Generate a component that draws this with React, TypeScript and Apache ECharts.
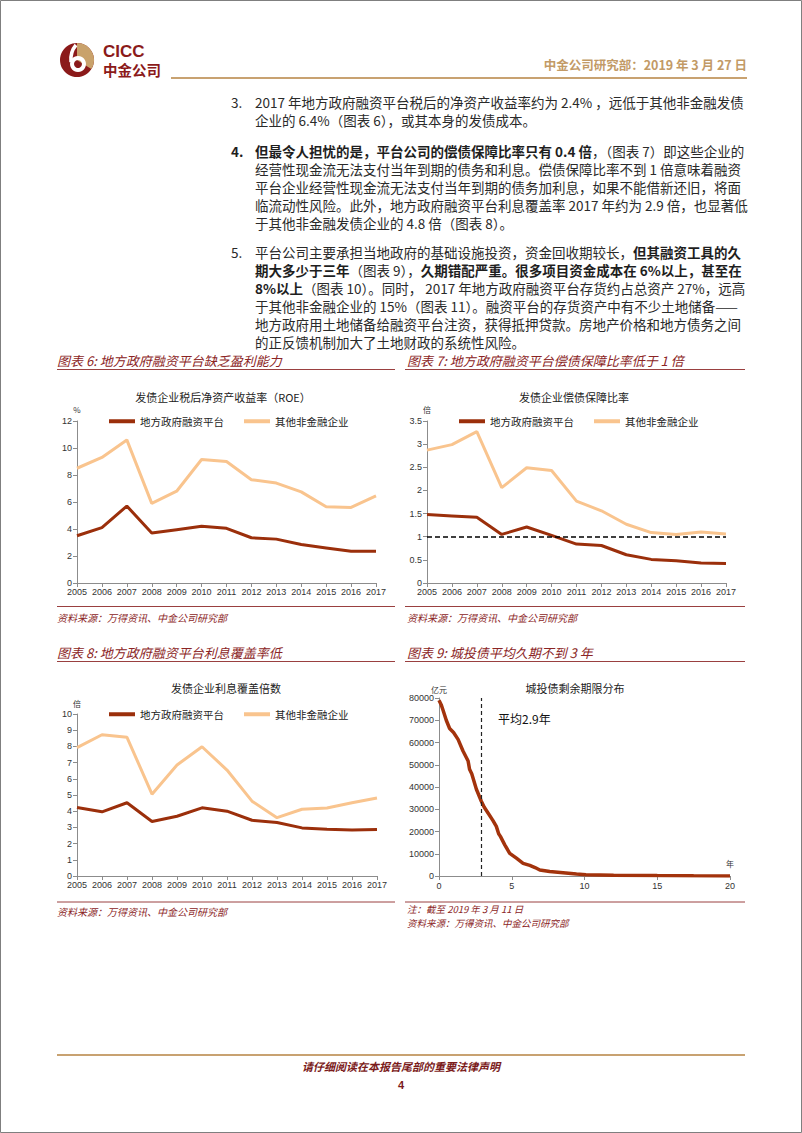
import React, { useEffect, useRef } from 'react';
import * as echarts from 'echarts';

const YEARS = ['2005', '2006', '2007', '2008', '2009', '2010', '2011', '2012', '2013', '2014', '2015', '2016', '2017'];
const SERIES_NAMES = ['地方政府融资平台', '其他非金融企业'];

const ROE_LGFV = [3.5, 4.1, 5.7, 3.7, 3.95, 4.2, 4.05, 3.35, 3.25, 2.85, 2.6, 2.35, 2.35];
const ROE_OTHER = [8.5, 9.3, 10.6, 5.9, 6.8, 9.15, 9.0, 7.65, 7.4, 6.75, 5.65, 5.6, 6.45];

const DSCR_LGFV = [1.48, 1.45, 1.42, 1.05, 1.21, 1.03, 0.84, 0.81, 0.61, 0.51, 0.48, 0.43, 0.42];
const DSCR_OTHER = [2.87, 2.99, 3.27, 2.06, 2.49, 2.43, 1.77, 1.56, 1.27, 1.09, 1.05, 1.1, 1.06];
const DSCR_THRESHOLD = 1;

const ICR_LGFV = [4.23, 3.96, 4.52, 3.36, 3.69, 4.21, 4.0, 3.44, 3.3, 2.97, 2.89, 2.84, 2.87];
const ICR_OTHER = [7.92, 8.72, 8.56, 5.05, 6.85, 7.98, 6.54, 4.62, 3.6, 4.12, 4.2, 4.52, 4.82];

const MATURITY_YEARS = [0, 0.15, 0.28, 0.5, 0.73, 1.0, 1.31, 1.65, 2.0, 2.1, 2.25, 2.57, 2.91, 3.1, 3.37, 3.7, 3.94, 4.1, 4.22, 4.52, 4.86, 5.32, 5.78, 6.24, 6.6, 6.93, 7.61, 8.53, 9.45, 10.1, 12, 15, 17.5, 20];
const MATURITY_AMOUNT = [79000, 77000, 74500, 70000, 66300, 64500, 61400, 56200, 51700, 48000, 46000, 39000, 33600, 31000, 28300, 25000, 22300, 19000, 17800, 14000, 10200, 8000, 5700, 4800, 3800, 2700, 2000, 1500, 900, 600, 350, 200, 100, 50];
const AVG_MATURITY = 2.9;

const DARK = '#9B2F0B';
const LIGHT = '#F9C48E';
const RED = '#8B2525';
const GOLD = '#C8A271';
const CJK = "'Noto Sans CJK SC', 'Noto Sans', sans-serif";
const ARIAL = "'Liberation Sans', Arial, sans-serif";

function txt(x: number, y: number, text: string, o: any = {}) {
  const align = o.align || 'left';
  return {
    type: 'text',
    x,
    y,
    z: 20,
    style: {
      text,
      fontSize: o.fontSize || 12,
      fontFamily: o.fontFamily || CJK,
      fontWeight: o.fontWeight || 'normal',
      fontStyle: o.fontStyle || 'normal',
      fill: o.fill || '#222',
      align,
      textAlign: align,
      verticalAlign: 'middle',
      textVerticalAlign: 'middle',
      lineHeight: o.lineHeight,
      rich: o.rich,
    },
  };
}

function hline(x1: number, x2: number, y: number, color: string, w: number) {
  return { type: 'line', z: 20, shape: { x1, y1: y, x2, y2: y }, style: { stroke: color, lineWidth: w } };
}

const BODY_FS = 13.5;
const bodyRich = {
  b: { fontWeight: 'bold', fontSize: BODY_FS, fontFamily: CJK, fill: '#1e1e1e', lineHeight: 16 },
};
function body(x: number, y: number, text: string) {
  return txt(x, y, text, { fontSize: BODY_FS, fill: '#2a2a2a', rich: bodyRich, lineHeight: 16 });
}

function catX(gi: number) {
  return {
    type: 'category',
    gridIndex: gi,
    data: YEARS,
    boundaryGap: false,
    axisLine: { show: true, lineStyle: { color: '#8c8c8c', width: 1 } },
    axisTick: { show: true, length: 4, lineStyle: { color: '#8c8c8c' } },
    axisLabel: { fontSize: 9, color: '#333', interval: 0, margin: 4, fontFamily: ARIAL },
    splitLine: { show: false },
  };
}

function valY(gi: number, max: number, interval: number, name: string, nameGap: number) {
  return {
    type: 'value',
    gridIndex: gi,
    min: 0,
    max,
    interval,
    name,
    nameLocation: 'end',
    nameGap,
    nameTextStyle: { fontSize: 8, color: '#333', fontFamily: CJK, align: 'center' },
    axisLine: { show: true, lineStyle: { color: '#8c8c8c', width: 1 } },
    axisTick: { show: true, length: 4, lineStyle: { color: '#8c8c8c' } },
    axisLabel: { fontSize: 9, color: '#333', margin: 5, fontFamily: ARIAL, formatter: (v: number) => String(v) },
    splitLine: { show: false },
  };
}

function lineSeries(name: string, gi: number, data: any[], color: string, extra: any = {}) {
  return {
    type: 'line',
    name,
    xAxisIndex: gi,
    yAxisIndex: gi,
    data,
    symbol: 'none',
    lineStyle: { width: 3, color },
    itemStyle: { color },
    silent: true,
    ...extra,
  };
}

export default function App() {
  const ref = useRef<HTMLDivElement>(null);
  useEffect(() => {
    const chart = echarts.init(ref.current as HTMLDivElement, null, { renderer: 'svg' });

    const P3 = [102, 120];
    const P4 = [151, 169, 187, 205, 223];
    const P5 = [252, 270, 288, 306, 324, 342];

    const graphic: any[] = [
      // page frame
      { type: 'rect', z: 1, shape: { x: 0.5, y: 0.5, width: 801, height: 1132 }, style: { fill: 'none', stroke: '#7f7f7f', lineWidth: 1 } },
      // logo
      { type: 'circle', z: 20, shape: { cx: 77, cy: 60, r: 17 }, style: { fill: '#8B1A1A' } },
      { type: 'sector', z: 21, shape: { cx: 77, cy: 60, r: 17, r0: 0, startAngle: -Math.PI / 2, endAngle: Math.PI * 0.18 }, style: { fill: '#C9A26B' } },
      { type: 'ring', z: 22, shape: { cx: 78, cy: 64, r: 8, r0: 4 }, style: { fill: '#fff' } },
      { type: 'bezierCurve', z: 22, shape: { x1: 71, y1: 62, x2: 76, y2: 45, cpx1: 70, cpy1: 52 }, style: { stroke: '#fff', lineWidth: 3.5, fill: 'none' } },
      txt(103, 51, 'CICC', { fontSize: 17, fontWeight: 'bold', fill: '#8B1A1A', fontFamily: ARIAL }),
      txt(103, 69, '中金公司', { fontSize: 14.5, fontWeight: 'bold', fill: '#8B1A1A' }),
      // header
      txt(747, 64, '中金公司研究部：2019 年 3 月 27 日', { fontSize: 12.5, fontWeight: 'bold', fill: '#C29A66', align: 'right' }),
      hline(171, 747, 78, GOLD, 2),

      // paragraph 3
      body(231, P3[0], '3.'),
      body(255, P3[0], '2017 年地方政府融资平台税后的净资产收益率约为 2.4% ，远低于其他非金融发债'),
      body(255, P3[1], '企业的 6.4%（图表 6），或其本身的发债成本。'),
      // paragraph 4
      body(231, P4[0], '{b|4.}'),
      body(255, P4[0], '{b|但最令人担忧的是，平台公司的偿债保障比率只有 0.4 倍}，（图表 7）即这些企业的'),
      body(255, P4[1], '经营性现金流无法支付当年到期的债务和利息。偿债保障比率不到 1 倍意味着融资'),
      body(255, P4[2], '平台企业经营性现金流无法支付当年到期的债务加利息，如果不能借新还旧，将面'),
      body(255, P4[3], '临流动性风险。此外，地方政府融资平台利息覆盖率 2017 年约为 2.9 倍，也显著低'),
      body(255, P4[4], '于其他非金融发债企业的 4.8 倍（图表 8）。'),
      // paragraph 5
      body(231, P5[0], '5.'),
      body(255, P5[0], '平台公司主要承担当地政府的基础设施投资，资金回收期较长，{b|但其融资工具的久}'),
      body(255, P5[1], '{b|期大多少于三年}（图表 9），{b|久期错配严重。很多项目资金成本在 6%以上，甚至在}'),
      body(255, P5[2], '{b|8%以上}（图表 10）。同时， 2017 年地方政府融资平台存货约占总资产 27%，远高'),
      body(255, P5[3], '于其他非金融企业的 15%（图表 11）。融资平台的存货资产中有不少土地储备——'),
      body(255, P5[4], '地方政府用土地储备给融资平台注资，获得抵押贷款。房地产价格和地方债务之间'),
      body(255, P5[5], '的正反馈机制加大了土地财政的系统性风险。'),

      // chart headings
      txt(57, 360, '图表 6: 地方政府融资平台缺乏盈利能力', { fontSize: 13, fontStyle: 'italic', fill: RED }),
      hline(57, 395, 369.5, '#9A4040', 1),
      txt(407, 360, '图表 7: 地方政府融资平台偿债保障比率低于 1 倍', { fontSize: 13, fontStyle: 'italic', fill: RED }),
      hline(405, 745, 369.5, '#9A4040', 1),
      txt(57, 652, '图表 8: 地方政府融资平台利息覆盖率低', { fontSize: 13, fontStyle: 'italic', fill: RED }),
      hline(57, 395, 661.5, '#9A4040', 1),
      txt(407, 652, '图表 9: 城投债平均久期不到 3 年', { fontSize: 13, fontStyle: 'italic', fill: RED }),
      hline(405, 745, 661.5, '#9A4040', 1),

      // chart titles
      txt(223, 397, '发债企业税后净资产收益率（ROE）', { fontSize: 11, align: 'center', fill: '#222' }),
      txt(574, 397, '发债企业偿债保障比率', { fontSize: 11, align: 'center', fill: '#222' }),
      txt(226, 688, '发债企业利息覆盖倍数', { fontSize: 11, align: 'center', fill: '#222' }),
      txt(575, 688, '城投债剩余期限分布', { fontSize: 11, align: 'center', fill: '#222' }),

      // annotations chart 9
      txt(498, 718, '平均2.9年', { fontSize: 12, fill: '#111' }),
      txt(730, 863, '年', { fontSize: 8, fill: '#333', align: 'center' }),

      // sources
      hline(57, 395, 606.5, '#9A4040', 1),
      hline(405, 745, 606.5, '#9A4040', 1),
      txt(57, 617, '资料来源：万得资讯、中金公司研究部', { fontSize: 10, fontStyle: 'italic', fill: RED }),
      txt(407, 617, '资料来源：万得资讯、中金公司研究部', { fontSize: 10, fontStyle: 'italic', fill: RED }),
      hline(57, 395, 902, '#9A4040', 1),
      hline(405, 745, 902, '#9A4040', 1),
      txt(57, 911, '资料来源：万得资讯、中金公司研究部', { fontSize: 10, fontStyle: 'italic', fill: RED }),
      txt(407, 909, '注：截至 2019 年 3 月 11 日', { fontSize: 9.5, fontStyle: 'italic', fill: RED }),
      txt(407, 922.5, '资料来源：万得资讯、中金公司研究部', { fontSize: 9.5, fontStyle: 'italic', fill: RED }),

      // footer
      hline(57, 745, 1055, GOLD, 2),
      txt(401, 1066, '请仔细阅读在本报告尾部的重要法律声明', { fontSize: 11, fontStyle: 'italic', fontWeight: 'bold', fill: '#7B1B1B', align: 'center' }),
      txt(401, 1085, '4', { fontSize: 11, fontWeight: 'bold', fill: '#7B1B1B', align: 'center', fontFamily: ARIAL }),
    ];

    const legendBase = {
      data: SERIES_NAMES,
      orient: 'horizontal',
      padding: 0,
      itemWidth: 26,
      itemHeight: 4,
      itemGap: 20,
      icon: 'rect',
      selectedMode: false,
      textStyle: { fontSize: 10.5, color: '#222', fontFamily: CJK },
    };

    const option: any = {
      animation: false,
      backgroundColor: '#ffffff',
      grid: [
        { left: 77, top: 421, width: 299, height: 162 },
        { left: 427, top: 421, width: 299, height: 162 },
        { left: 77, top: 714, width: 300, height: 162 },
        { left: 439, top: 698, width: 291, height: 178 },
      ],
      legend: [
        { ...legendBase, left: 109, top: 416 },
        { ...legendBase, left: 459, top: 416 },
        { ...legendBase, left: 109, top: 709 },
      ],
      xAxis: [
        catX(0),
        catX(1),
        catX(2),
        {
          type: 'value',
          gridIndex: 3,
          min: 0,
          max: 20,
          interval: 5,
          axisLine: { show: true, lineStyle: { color: '#8c8c8c', width: 1 } },
          axisTick: { show: true, length: 4, lineStyle: { color: '#8c8c8c' } },
          axisLabel: { fontSize: 9, color: '#333', margin: 5, fontFamily: ARIAL },
          splitLine: { show: false },
        },
      ],
      yAxis: [
        valY(0, 12, 2, '%', 8),
        valY(1, 3.5, 0.5, '倍', 8),
        valY(2, 10, 1, '倍', 7),
        valY(3, 80000, 10000, '亿元', 4),
      ],
      series: [
        lineSeries(SERIES_NAMES[1], 0, ROE_OTHER, LIGHT),
        lineSeries(SERIES_NAMES[0], 0, ROE_LGFV, DARK),
        lineSeries(SERIES_NAMES[1], 1, DSCR_OTHER, LIGHT),
        lineSeries(SERIES_NAMES[0], 1, DSCR_LGFV, DARK, {
          markLine: {
            silent: true,
            symbol: ['none', 'none'],
            label: { show: false },
            lineStyle: { color: '#000', type: [5, 3], width: 1.5 },
            data: [{ yAxis: DSCR_THRESHOLD }],
          },
        }),
        lineSeries(SERIES_NAMES[1], 2, ICR_OTHER, LIGHT),
        lineSeries(SERIES_NAMES[0], 2, ICR_LGFV, DARK),
        lineSeries('城投债剩余期限分布', 3, MATURITY_YEARS.map((x, i) => [x, MATURITY_AMOUNT[i]]), '#A3330C', {
          lineStyle: { width: 3.5, color: '#A3330C' },
          markLine: {
            silent: true,
            symbol: ['none', 'none'],
            label: { show: false },
            lineStyle: { color: '#222', type: [4, 3], width: 1.2 },
            data: [{ xAxis: AVG_MATURITY }],
          },
        }),
      ],
      graphic,
    };

    chart.setOption(option);
    return () => chart.dispose();
  }, []);

  return (
    <div
      ref={ref}
      style={{ position: 'absolute', left: 0, top: 0, width: 802, height: 1133, background: '#fff' }}
    />
  );
}
